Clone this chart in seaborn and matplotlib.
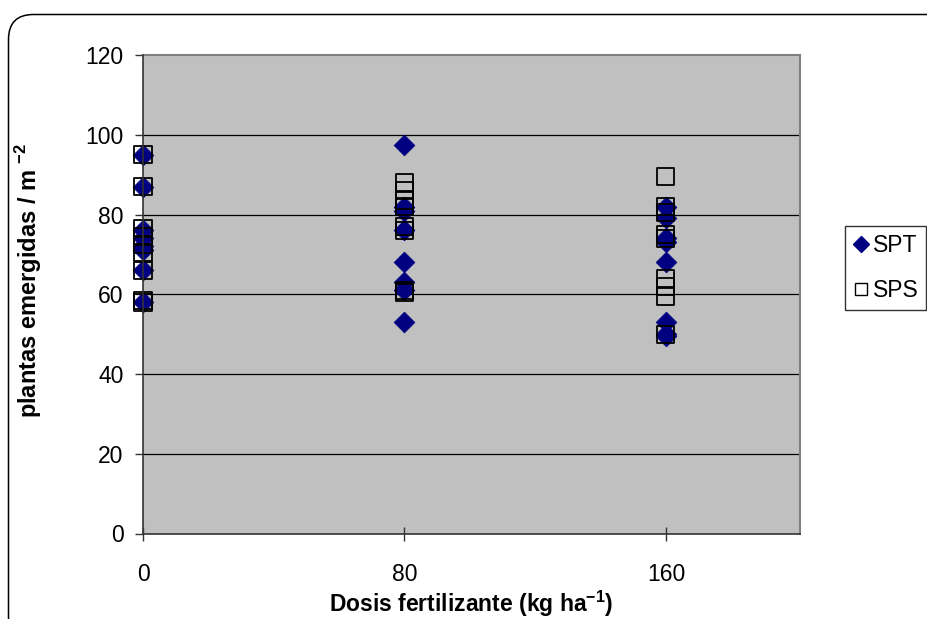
import matplotlib
matplotlib.use("Agg")
import matplotlib.pyplot as plt
import seaborn as sns
import pandas as pd
from matplotlib.patches import FancyBboxPatch
from matplotlib.transforms import IdentityTransform

# ---- data ----
spt_dose = [0, 0, 0, 0, 0, 0, 0, 0,
            80, 80, 80, 80, 80, 80, 80, 80,
            160, 160, 160, 160, 160, 160, 160, 160]
spt_vals = [95, 87, 76, 74, 72, 66, 58, 71,
            97.5, 82, 81, 76, 68, 63, 61, 53,
            82, 79, 74, 73, 68, 53, 50, 49.5]
sps_dose = [0, 0, 0, 0, 0, 0, 0, 0, 0,
            80, 80, 80, 80, 80, 80, 80, 80,
            160, 160, 160, 160, 160, 160, 160, 160, 160]
sps_vals = [95, 87, 76.5, 74.5, 72.5, 70.5, 66, 58, 58.5,
            88, 86, 83.5, 82, 77, 76, 61, 60.5,
            89.5, 82, 80.5, 75, 74, 64, 62, 59.5, 50]
x_ticks = [0, 80, 160]
y_ticks = [0, 20, 40, 60, 80, 100, 120]
series_names = ["SPT", "SPS"]

df_spt = pd.DataFrame({"dose": spt_dose, "plants": spt_vals})
df_sps = pd.DataFrame({"dose": sps_dose, "plants": sps_vals})

sns.set_style("white")
plt.rcParams["font.family"] = ["Liberation Sans", "DejaVu Sans"]
plt.rcParams["text.color"] = "black"
plt.rcParams["axes.labelcolor"] = "black"
plt.rcParams["xtick.color"] = "black"
plt.rcParams["ytick.color"] = "black"

FS = 16.5
W, H = 928, 619
fig = plt.figure(figsize=(W / 100, H / 100), dpi=100)
ax_h = 533.5 - 55
ax_w = 800 - 143
ax = fig.add_axes([143 / W, 1 - 533.5 / H, ax_w / W, ax_h / H])
ax.set_facecolor("#C0C0C0")

sns.scatterplot(data=df_spt, x="dose", y="plants", ax=ax, marker="D",
                s=112, color="#000080", edgecolor="#000080", linewidth=0.5,
                zorder=3, legend=False, clip_on=False)
sns.scatterplot(data=df_sps, x="dose", y="plants", ax=ax, marker="s",
                s=150, facecolor="none", edgecolor="black", linewidth=1.3,
                zorder=4, legend=False, clip_on=False)
ax.collections[-1].set_facecolor("none")

ax.set_xlim(0, 201)
ax.set_ylim(0, 120)
ax.set_xticks(x_ticks)
ax.set_yticks(y_ticks)
ax.set_xticklabels([str(t) for t in x_ticks], fontsize=FS)
ax.set_yticklabels([str(t) for t in y_ticks], fontsize=FS)

for y in y_ticks[1:-1]:
    ax.axhline(y, color="black", linewidth=0.9, zorder=1)

for side in ["top", "right"]:
    ax.spines[side].set_color("#808080")
    ax.spines[side].set_linewidth(1.5)
for side in ["left", "bottom"]:
    ax.spines[side].set_color("#333333")
    ax.spines[side].set_linewidth(1.2)
    ax.spines[side].set_zorder(5)

ax.tick_params(axis="y", direction="out", length=6, width=1, color="#333333",
               left=True, pad=8)
ax.tick_params(axis="x", direction="inout", length=10, width=1, color="#333333",
               bottom=True, pad=16)

ax.set_xlabel("Dosis fertilizante (kg ha$^{\\mathregular{-1}}$)", fontsize=FS,
              fontweight="bold")
ax.set_ylabel("plantas emergidas / m $^{\\mathregular{-2}}$", fontsize=17,
              fontweight="bold")
ax.xaxis.set_label_coords(0.5, (533.5 - 589) / ax_h)
ax.yaxis.set_label_coords((44 - 143) / ax_w, (533.5 - 280) / ax_h)

# legend
h_spt = plt.Line2D([], [], marker="D", linestyle="none", markersize=8,
                   markerfacecolor="#000080", markeredgecolor="#000080")
h_sps = plt.Line2D([], [], marker="s", linestyle="none", markersize=9,
                   markerfacecolor="none", markeredgecolor="black",
                   markeredgewidth=1)
leg = fig.legend([h_spt, h_sps], series_names, loc="upper left",
                 bbox_to_anchor=(845 / W, 1 - 226 / H), fontsize=FS,
                 frameon=True, fancybox=False, edgecolor="black",
                 handlelength=0.7, handletextpad=0.15, borderpad=0.35,
                 labelspacing=0.95, borderaxespad=0)
leg.get_frame().set_linewidth(1)

# outer chart border (rounded, partially clipped)
border = FancyBboxPatch((8.5, -40), 945, 605 + 40 - 0.5,
                        boxstyle="round,pad=0,rounding_size=25",
                        transform=IdentityTransform(), facecolor="none",
                        edgecolor="black", linewidth=1.1)
fig.add_artist(border)

fig.savefig("out.png", dpi=100)
